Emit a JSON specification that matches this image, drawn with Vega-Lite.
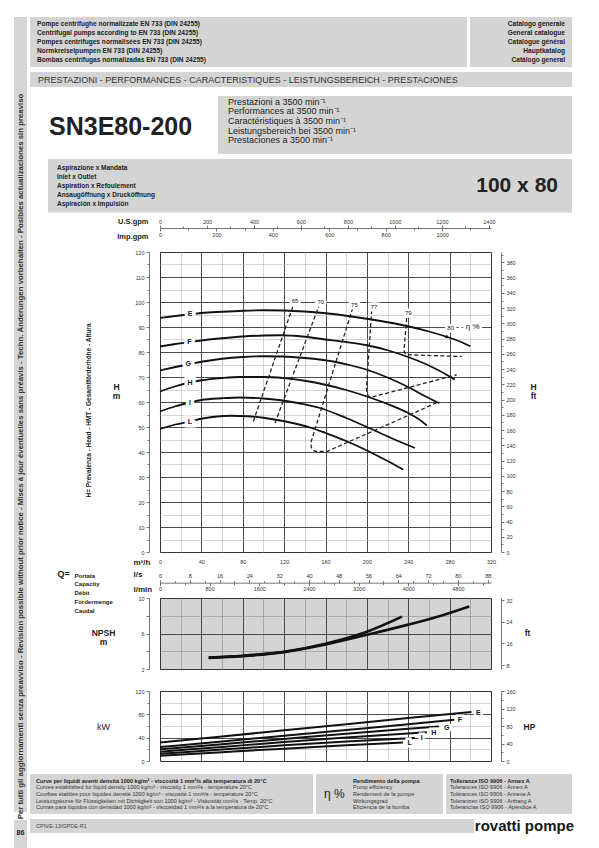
{
"$schema": "https://vega.github.io/schema/vega-lite/v6.json",
"background": "white",
"padding": {"left": 14, "top": 17, "right": 0, "bottom": 0},
"config": {
  "font": "Liberation Sans",
  "numberFormat": "d",
  "view": {"stroke": null},
  "axis": {"labelFontSize": 5.5, "labelColor": "#333", "labelFlush": false, "labelOverlap": false, "domainColor": "#555", "domainWidth": 0.8, "tickColor": "#555", "tickWidth": 0.8, "titleColor": "#222", "titleFontWeight": "bold", "titlePadding": 0}
},
"datasets": {
  "one": [{"v": 0}],
  "hq": [
    {"c":"E","q":0,"h":93.6},{"c":"E","q":15,"h":94.4},{"c":"E","q":29,"h":95.1},{"c":"E","q":40,"h":95.6},{"c":"E","q":60,"h":96.1},{"c":"E","q":80,"h":96.5},{"c":"E","q":100,"h":96.7},{"c":"E","q":120,"h":96.6},{"c":"E","q":140,"h":96.2},{"c":"E","q":158,"h":95.6},{"c":"E","q":180,"h":94.5},{"c":"E","q":203,"h":93.1},{"c":"E","q":220,"h":91.9},{"c":"E","q":238.5,"h":90.4},{"c":"E","q":260,"h":88.2},{"c":"E","q":277,"h":86.1},{"c":"E","q":290,"h":84.2},{"c":"E","q":300,"h":82.3},
    {"c":"F","q":0,"h":82.2},{"c":"F","q":15,"h":83.2},{"c":"F","q":29,"h":84.0},{"c":"F","q":40,"h":84.6},{"c":"F","q":60,"h":85.5},{"c":"F","q":80,"h":86.2},{"c":"F","q":100,"h":86.6},{"c":"F","q":116,"h":86.7},{"c":"F","q":140,"h":86.1},{"c":"F","q":158,"h":85.1},{"c":"F","q":180,"h":84.0},{"c":"F","q":200,"h":82.7},{"c":"F","q":220,"h":80.7},{"c":"F","q":238.5,"h":78.2},{"c":"F","q":260,"h":74.6},{"c":"F","q":280,"h":70.2},{"c":"F","q":285,"h":68.9},
    {"c":"G","q":0,"h":72.6},{"c":"G","q":15,"h":74.0},{"c":"G","q":29,"h":75.2},{"c":"G","q":40,"h":76.1},{"c":"G","q":60,"h":77.3},{"c":"G","q":80,"h":78.0},{"c":"G","q":100,"h":78.3},{"c":"G","q":119,"h":78.2},{"c":"G","q":140,"h":77.6},{"c":"G","q":167.5,"h":76.2},{"c":"G","q":185,"h":74.6},{"c":"G","q":200,"h":72.9},{"c":"G","q":220,"h":69.8},{"c":"G","q":241.7,"h":65.6},{"c":"G","q":255,"h":62.6},{"c":"G","q":270,"h":59.5},
    {"c":"H","q":0,"h":64.2},{"c":"H","q":15,"h":66.3},{"c":"H","q":29,"h":67.8},{"c":"H","q":40,"h":68.7},{"c":"H","q":60,"h":69.6},{"c":"H","q":77,"h":70.0},{"c":"H","q":100,"h":70.0},{"c":"H","q":119,"h":69.6},{"c":"H","q":140,"h":68.5},{"c":"H","q":160,"h":66.9},{"c":"H","q":180,"h":64.8},{"c":"H","q":200,"h":62.2},{"c":"H","q":220,"h":59.2},{"c":"H","q":240,"h":55.6},{"c":"H","q":250,"h":53.2},{"c":"H","q":258,"h":50.6},
    {"c":"I","q":0,"h":56.2},{"c":"I","q":15,"h":58.3},{"c":"I","q":29,"h":59.8},{"c":"I","q":40,"h":60.8},{"c":"I","q":60,"h":61.5},{"c":"I","q":77,"h":61.8},{"c":"I","q":100,"h":61.4},{"c":"I","q":119,"h":60.6},{"c":"I","q":137,"h":59.3},{"c":"I","q":154.7,"h":57.6},{"c":"I","q":180,"h":53.6},{"c":"I","q":200,"h":50.0},{"c":"I","q":223.5,"h":45.6},{"c":"I","q":246.5,"h":41.6},
    {"c":"L","q":0,"h":49.2},{"c":"L","q":15,"h":51.0},{"c":"L","q":29,"h":52.2},{"c":"L","q":40,"h":53.3},{"c":"L","q":55,"h":54.2},{"c":"L","q":68,"h":54.5},{"c":"L","q":85,"h":54.3},{"c":"L","q":100,"h":53.7},{"c":"L","q":119,"h":52.4},{"c":"L","q":146.6,"h":49.6},{"c":"L","q":160,"h":47.6},{"c":"L","q":180,"h":44.4},{"c":"L","q":200,"h":40.6},{"c":"L","q":220,"h":36.4},{"c":"L","q":235,"h":33.0}
  ],
  "hqlab": [
    {"t":"E","q":29,"h":95.2},{"t":"F","q":28.4,"h":84.0},{"t":"G","q":27.4,"h":75.2},{"t":"H","q":29,"h":67.8},{"t":"I","q":29,"h":59.8},{"t":"L","q":29,"h":52.2}
  ],
  "eta": [
    {"c":"65","i":1,"q":90.2,"h":52.2},{"c":"65","i":2,"q":128.5,"h":98.3},
    {"c":"70","i":1,"q":111.2,"h":51.6},{"c":"70","i":2,"q":153.5,"h":98.3},
    {"c":"75","i":1,"q":186.3,"h":97.6},{"c":"75","i":2,"q":145.7,"h":43.6},{"c":"75","i":3,"q":146.4,"h":41.7},{"c":"75","i":4,"q":148.6,"h":40.5},{"c":"75","i":5,"q":151.5,"h":40.2},{"c":"75","i":6,"q":161.3,"h":40.2},{"c":"75","i":7,"q":186.9,"h":44.9},{"c":"75","i":8,"q":215.9,"h":50.2},{"c":"75","i":9,"q":241.7,"h":54.9},{"c":"75","i":10,"q":270,"h":60.2},
    {"c":"77","i":1,"q":204.7,"h":96.8},{"c":"77","i":2,"q":199.6,"h":65.5},{"c":"77","i":3,"q":199.9,"h":63.5},{"c":"77","i":4,"q":201.5,"h":62.4},{"c":"77","i":5,"q":204.7,"h":62.0},{"c":"77","i":6,"q":238.5,"h":65.6},{"c":"77","i":7,"q":286.8,"h":70.9},
    {"c":"79","i":1,"q":238.5,"h":93.6},{"c":"79","i":2,"q":235.9,"h":80.9},{"c":"79","i":3,"q":236.5,"h":79.6},{"c":"79","i":4,"q":238.5,"h":78.9},{"c":"79","i":5,"q":291.7,"h":78.2}
  ],
  "etalab": [
    {"t":"65","q":130.5,"h":100.3},{"t":"70","q":155.4,"h":100.0},{"t":"75","q":188,"h":99.0},{"t":"77","q":207,"h":98.0},{"t":"79","q":240,"h":95.5},{"t":"80","q":281,"h":89.6}
  ],
  "npsh": [
    {"c":"1","q":47,"n":3.3},{"c":"1","q":80,"n":3.5},{"c":"1","q":120,"n":3.95},{"c":"1","q":160,"n":4.85},{"c":"1","q":200,"n":6.2},{"c":"1","q":234,"n":7.9},
    {"c":"2","q":47,"n":3.25},{"c":"2","q":80,"n":3.45},{"c":"2","q":120,"n":3.9},{"c":"2","q":160,"n":4.75},{"c":"2","q":200,"n":5.85},{"c":"2","q":240,"n":7.0},{"c":"2","q":270,"n":7.95},{"c":"2","q":299,"n":9.05}
  ],
  "kw": [
    {"c":"E","q":0,"p":31.9},{"c":"E","q":60,"p":42.0},{"c":"E","q":120,"p":52.6},{"c":"E","q":180,"p":63.2},{"c":"E","q":240,"p":73.6},{"c":"E","q":301,"p":84.0},
    {"c":"F","q":0,"p":24.0},{"c":"F","q":60,"p":33.5},{"c":"F","q":120,"p":43.2},{"c":"F","q":180,"p":53.0},{"c":"F","q":240,"p":62.8},{"c":"F","q":284.5,"p":70.7},
    {"c":"G","q":0,"p":20.0},{"c":"G","q":60,"p":28.8},{"c":"G","q":120,"p":37.8},{"c":"G","q":180,"p":46.8},{"c":"G","q":240,"p":55.2},{"c":"G","q":269.6,"p":59.1},
    {"c":"H","q":0,"p":16.0},{"c":"H","q":60,"p":24.2},{"c":"H","q":120,"p":32.4},{"c":"H","q":180,"p":40.2},{"c":"H","q":258,"p":49.3},
    {"c":"I","q":0,"p":12.4},{"c":"I","q":60,"p":19.6},{"c":"I","q":120,"p":26.8},{"c":"I","q":180,"p":33.5},{"c":"I","q":246.4,"p":39.4},
    {"c":"L","q":0,"p":9.0},{"c":"L","q":60,"p":15.2},{"c":"L","q":120,"p":21.2},{"c":"L","q":180,"p":26.8},{"c":"L","q":234.8,"p":31.9}
  ],
  "kwlab": [
    {"t":"E","q":307.7,"p":82.9},{"t":"F","q":290,"p":70.7},{"t":"G","q":277.2,"p":56.8},{"t":"H","q":264.6,"p":47.5},{"t":"I","q":253,"p":39.4},{"t":"L","q":241.4,"p":30.1}
  ],
  "box5": [
    {"n":1,"t":"Curve per liquidi aventi densità 1000 kg/m³ - viscosità 1 mm²/s alla temperatura di 20°C"},
    {"n":2,"t":"Curves established for liquid density 1000 kg/m³ - viscosity 1 mm²/s - temperature 20°C"},
    {"n":3,"t":"Courbes établies pour liquides densité 1000 kg/m³ - viscosité 1 mm²/s - température 20°C"},
    {"n":4,"t":"Leistungskurve für Flüssigkeiten mit Dichtigkeit von 1000 kg/m³ - Viskosität mm²/s - Temp. 20°C"},
    {"n":5,"t":"Curvas para liquidos con densidad 1000 kg/m³ - viscosidad 1 mm²/s a la temperatura de 20°C"}],
  "box6": [
    {"n":1,"t":"Rendimento della pompa"},{"n":2,"t":"Pump efficiency"},{"n":3,"t":"Rendement de la pompe"},{"n":4,"t":"Wirkungsgrad"},{"n":5,"t":"Eficiencia de la bomba"}],
  "box7": [
    {"n":1,"t":"Tolleranze ISO 9906 - Annex A"},{"n":2,"t":"Tolerances ISO 9906 - Annex A"},{"n":3,"t":"Tolérances ISO 9906 - Annexe A"},{"n":4,"t":"Toleranzen ISO 9906 - Anhang A"},{"n":5,"t":"Tolerancias ISO 9906 - Apéndice A"}]
},
"spacing": 3,
"hconcat": [
  {"spacing": 0, "vconcat": [
    {"width": 13, "height": 795, "view": {"fill": "#d5d5d5"},
     "data": {"values": [{"t": "Per tutti gli aggiornamenti senza preavviso - Revision possible without prior notice - Mises à jour éventuelles sans préavis - Techn. Änderungen vorbehalten - Posibles actualizaciones sin preaviso"}]},
     "mark": {"type": "text", "angle": 270, "fontSize": 7.8, "fontWeight": "bold", "color": "#333", "align": "center", "baseline": "middle", "dx": -42},
     "encoding": {"text": {"field": "t"}}},
    {"width": 13, "height": 36, "view": {"fill": "#d5d5d5"},
     "data": {"values": [{"t": "86"}]},
     "mark": {"type": "text", "fontSize": 7, "fontWeight": "bold", "color": "#222", "baseline": "middle", "dy": -5},
     "encoding": {"text": {"field": "t"}}}
  ]},
  {"spacing": 0, "vconcat": [
    {"spacing": 3, "hconcat": [
      {"width": 437, "height": 50, "view": {"fill": "#d4d4d4"},
       "data": {"values": [
         {"n":1,"t":"Pompe centrifughe normalizzate EN 733 (DIN 24255)"},
         {"n":2,"t":"Centrifugal pumps according to EN 733 (DIN 24255)"},
         {"n":3,"t":"Pompes centrifuges normalisées EN 733 (DIN 24255)"},
         {"n":4,"t":"Normkreiselpumpen EN 733 (DIN 24255)"},
         {"n":5,"t":"Bombas centrifugas normalizadas EN 733 (DIN 24255)"}]},
       "mark": {"type": "text", "align": "left", "baseline": "middle", "fontSize": 6.6, "fontWeight": "bold", "color": "#222", "dx": 7},
       "encoding": {
         "x": {"datum": 0, "type": "quantitative", "scale": {"domain": [0, 1]}, "axis": null},
         "y": {"field": "n", "type": "ordinal", "axis": null, "scale": {"type": "point", "padding": 0.84}},
         "text": {"field": "t"}}},
      {"width": 102, "height": 50, "view": {"fill": "#d4d4d4"},
       "data": {"values": [
         {"n":1,"t":"Catalogo generale"},{"n":2,"t":"General catalogue"},{"n":3,"t":"Catalogue général"},{"n":4,"t":"Hauptkatalog"},{"n":5,"t":"Catálogo general"}]},
       "mark": {"type": "text", "align": "right", "baseline": "middle", "fontSize": 6.6, "fontWeight": "bold", "color": "#222", "dx": -7},
       "encoding": {
         "x": {"datum": 1, "type": "quantitative", "scale": {"domain": [0, 1]}, "axis": null},
         "y": {"field": "n", "type": "ordinal", "axis": null, "scale": {"type": "point", "padding": 0.84}},
         "text": {"field": "t"}}}
    ]},
    {"width": 1, "height": 5, "data": {"values": [{}]}, "mark": {"type": "point", "opacity": 0, "size": 1}},
    {"width": 542, "height": 15, "view": {"fill": "#d4d4d4"},
     "data": {"values": [{"t": "PRESTAZIONI - PERFORMANCES - CARACTERISTIQUES - LEISTUNGSBEREICH - PRESTACIONES"}]},
     "mark": {"type": "text", "align": "left", "baseline": "middle", "fontSize": 9, "color": "#333", "dx": 8},
     "encoding": {"x": {"datum": 0, "type": "quantitative", "scale": {"domain": [0, 1]}, "axis": null}, "text": {"field": "t"}}},
    {"width": 1, "height": 9, "data": {"values": [{}]}, "mark": {"type": "point", "opacity": 0, "size": 1}},
    {"spacing": 0, "hconcat": [
      {"width": 188, "height": 58,
       "data": {"values": [{"t": "SN3E80-200"}]},
       "mark": {"type": "text", "align": "left", "baseline": "middle", "fontSize": 25, "fontWeight": "bold", "color": "#222", "dx": 19, "dy": 2},
       "encoding": {"x": {"datum": 0, "type": "quantitative", "scale": {"domain": [0, 1]}, "axis": null}, "text": {"field": "t"}}},
      {"width": 354, "height": 58, "view": {"fill": "#d4d4d4"},
       "data": {"values": [
         {"n":1,"t":"Prestazioni a 3500 min⁻¹"},{"n":2,"t":"Performances at 3500 min⁻¹"},{"n":3,"t":"Caractéristiques à 3500 min⁻¹"},{"n":4,"t":"Leistungsbereich bei 3500 min⁻¹"},{"n":5,"t":"Prestaciones a 3500 min⁻¹"}]},
       "mark": {"type": "text", "align": "left", "baseline": "middle", "fontSize": 9, "color": "#222", "dx": 10, "dy": -4},
       "encoding": {
         "x": {"datum": 0, "type": "quantitative", "scale": {"domain": [0, 1]}, "axis": null},
         "y": {"field": "n", "type": "ordinal", "axis": null, "scale": {"type": "point", "padding": 1.41}},
         "text": {"field": "t"}}}
    ]},
    {"width": 1, "height": 4.5, "data": {"values": [{}]}, "mark": {"type": "point", "opacity": 0, "size": 1}},
    {"spacing": 0, "hconcat": [
      {"width": 18, "height": 1, "data": {"values": [{}]}, "mark": {"type": "point", "opacity": 0, "size": 1}},
      {"width": 524, "height": 53.5, "view": {"fill": "#d4d4d4"},
       "layer": [
         {"data": {"values": [
           {"n":1,"t":"Aspirazione x Mandata"},{"n":2,"t":"Inlet x Outlet"},{"n":3,"t":"Aspiration x Refoulement"},{"n":4,"t":"Ansaugöffnung x Drucköffnung"},{"n":5,"t":"Aspiración x Impulsión"}]},
          "mark": {"type": "text", "align": "left", "baseline": "middle", "fontSize": 6.5, "fontWeight": "bold", "color": "#222", "dx": 9},
          "encoding": {
            "x": {"datum": 0, "type": "quantitative", "scale": {"domain": [0, 1]}, "axis": null},
            "y": {"field": "n", "type": "ordinal", "axis": null, "scale": {"type": "point", "padding": 1.07}},
            "text": {"field": "t"}}},
         {"data": {"values": [{"t": "100 x 80"}]},
          "mark": {"type": "text", "align": "right", "baseline": "middle", "fontSize": 21, "fontWeight": "bold", "color": "#222", "dx": -14},
          "encoding": {"x": {"datum": 1, "type": "quantitative", "scale": {"domain": [0, 1]}, "axis": null}, "text": {"field": "t"}}}
       ]}
    ]},
    {"width": 1, "height": 3.6, "data": {"values": [{}]}, "mark": {"type": "point", "opacity": 0, "size": 1}},
    {"spacing": 0, "bounds": "flush", "hconcat": [
      {"width": 130, "height": 1, "data": {"values": [{}]}, "mark": {"type": "point", "opacity": 0, "size": 1}},
      {"spacing": 22, "bounds": "flush", "vconcat": [
        {"width": 331, "height": 300, "view": {"stroke": "#333", "strokeWidth": 1},
         "resolve": {"scale": {"x": "independent", "y": "independent"}, "axis": {"x": "independent", "y": "independent"}},
         "layer": [
           {"data": {"name": "one"}, "mark": {"type": "point", "opacity": 0},
            "encoding": {
              "x": {"field": "v", "type": "quantitative", "scale": {"domain": [0, 320], "nice": false}, "axis": {"orient": "bottom", "grid": true, "gridColor": "#b5b5b5", "gridWidth": 0.6, "values": [20,60,100,140,180,220,260,300], "labels": false, "ticks": false, "tickSize": 0, "domain": false, "title": null}},
              "y": {"field": "v", "type": "quantitative", "scale": {"domain": [0, 120], "nice": false}, "axis": {"orient": "left", "grid": true, "gridColor": "#b5b5b5", "gridWidth": 0.6, "values": [5,15,25,35,45,55,65,75,85,95,105,115], "labels": false, "ticks": false, "tickSize": 0, "domain": false, "title": null}}}},
           {"data": {"name": "one"}, "mark": {"type": "point", "opacity": 0},
            "encoding": {
              "x": {"field": "v", "type": "quantitative", "scale": {"domain": [0, 320], "nice": false}, "axis": {"orient": "bottom", "grid": true, "gridColor": "#4a4a4a", "gridWidth": 1, "values": [40,80,120,160,200,240,280], "labels": false, "ticks": false, "tickSize": 0, "domain": false, "title": null}},
              "y": {"field": "v", "type": "quantitative", "scale": {"domain": [0, 120], "nice": false}, "axis": {"orient": "left", "grid": true, "gridColor": "#4a4a4a", "gridWidth": 1, "values": [10,20,30,40,50,60,70,80,90,100,110], "labels": false, "ticks": false, "tickSize": 0, "domain": false, "title": null}}}},
           {"data": {"name": "one"}, "mark": {"type": "point", "opacity": 0},
            "encoding": {
              "x": {"field": "v", "type": "quantitative", "scale": {"domain": [0, 320], "nice": false}, "axis": {"orient": "bottom", "values": [0,40,80,120,160,200,240,280,320], "ticks": false, "tickSize": 0, "domain": false, "labelPadding": 7, "title": "m³/h", "titleX": -27, "titleY": 10, "titleAlign": "left", "titleBaseline": "middle", "titleAngle": 0, "titleFontSize": 8}},
              "y": {"field": "v", "type": "quantitative", "scale": {"domain": [0, 120], "nice": false}, "axis": {"orient": "left", "offset": 11, "values": [0,10,20,30,40,50,60,70,80,90,100,110,120], "tickSize": 3, "labelPadding": 2, "domain": true, "title": ["H", "m"], "titleX": -33, "titleY": 134, "titleAlign": "center", "titleBaseline": "middle", "titleAngle": 0, "titleFontSize": 8.5, "titleLineHeight": 9}}}},
           {"data": {"name": "one"}, "mark": {"type": "point", "opacity": 0},
            "encoding": {
              "x": {"field": "v", "type": "quantitative", "scale": {"domain": [0, 1]}, "axis": null},
              "y": {"field": "v", "type": "quantitative", "scale": {"domain": [0, 120], "nice": false}, "axis": {"orient": "left", "offset": 11, "values": [5,15,25,35,45,55,65,75,85,95,105,115], "tickSize": 2, "labels": false, "domain": false, "title": "H=  Prevalenza - Head - HMT - Gesamtförderhöhe - Altura", "titleX": -61, "titleY": 158, "titleAngle": 270, "titleAlign": "center", "titleBaseline": "middle", "titleFontSize": 6.5}}}},
           {"data": {"name": "one"}, "mark": {"type": "point", "opacity": 0},
            "encoding": {
              "x": {"field": "v", "type": "quantitative", "scale": {"domain": [0, 1]}, "axis": null},
              "y": {"field": "v", "type": "quantitative", "scale": {"domain": [0, 393.7], "nice": false}, "axis": {"orient": "right", "offset": 10, "values": [0,20,40,60,80,100,120,140,160,180,200,220,240,260,280,300,320,340,360,380], "tickSize": 3, "labelPadding": 2, "domain": true, "title": ["H", "ft"], "titleX": 32, "titleY": 134, "titleAlign": "center", "titleBaseline": "middle", "titleAngle": 0, "titleFontSize": 8.5, "titleLineHeight": 9}}}},
           {"data": {"name": "one"}, "mark": {"type": "point", "opacity": 0},
            "encoding": {
              "x": {"field": "v", "type": "quantitative", "scale": {"domain": [0, 1]}, "axis": null},
              "y": {"field": "v", "type": "quantitative", "scale": {"domain": [0, 393.7], "nice": false}, "axis": {"orient": "right", "offset": 10, "values": [10,30,50,70,90,110,130,150,170,190,210,230,250,270,290,310,330,350,370,390], "tickSize": 2, "labels": false, "domain": false, "title": null}}}},
           {"data": {"name": "one"}, "mark": {"type": "point", "opacity": 0},
            "encoding": {
              "y": {"field": "v", "type": "quantitative", "scale": {"domain": [0, 1]}, "axis": null},
              "x": {"field": "v", "type": "quantitative", "scale": {"domain": [0, 1408.9], "nice": false}, "axis": {"orient": "top", "offset": 24, "values": [0,200,400,600,800,1000,1200,1400], "tickSize": 3, "labelPadding": 1, "domain": true, "title": "U.S.gpm", "titleX": -12, "titleY": -6.5, "titleAlign": "right", "titleBaseline": "middle", "titleAngle": 0, "titleFontSize": 7.5}}}},
           {"data": {"name": "one"}, "mark": {"type": "point", "opacity": 0},
            "encoding": {
              "y": {"field": "v", "type": "quantitative", "scale": {"domain": [0, 1]}, "axis": null},
              "x": {"field": "v", "type": "quantitative", "scale": {"domain": [0, 1408.9], "nice": false}, "axis": {"orient": "top", "offset": 24, "values": [100,300,500,700,900,1100,1300], "tickSize": 2, "labels": false, "domain": false, "title": null}}}},
           {"data": {"name": "one"}, "mark": {"type": "point", "opacity": 0},
            "encoding": {
              "y": {"field": "v", "type": "quantitative", "scale": {"domain": [0, 1]}, "axis": null},
              "x": {"field": "v", "type": "quantitative", "scale": {"domain": [0, 1173.2], "nice": false}, "axis": {"orient": "bottom", "offset": -324, "values": [0,200,400,600,800,1000], "tickSize": 3, "labelPadding": 1, "domain": false, "title": "Imp.gpm", "titleX": -12, "titleY": 8.5, "titleAlign": "right", "titleBaseline": "middle", "titleAngle": 0, "titleFontSize": 7.5}}}},
           {"data": {"name": "one"}, "mark": {"type": "point", "opacity": 0},
            "encoding": {
              "y": {"field": "v", "type": "quantitative", "scale": {"domain": [0, 1]}, "axis": null},
              "x": {"field": "v", "type": "quantitative", "scale": {"domain": [0, 1173.2], "nice": false}, "axis": {"orient": "bottom", "offset": -324, "values": [100,300,500,700,900,1100], "tickSize": 2, "labels": false, "domain": false, "title": null}}}},
           {"data": {"name": "hq"}, "mark": {"type": "line", "color": "#111", "strokeWidth": 1.8, "interpolate": "monotone"},
            "encoding": {
              "x": {"field": "q", "type": "quantitative", "scale": {"domain": [0, 320], "nice": false}, "axis": null},
              "y": {"field": "h", "type": "quantitative", "scale": {"domain": [0, 120], "nice": false}, "axis": null},
              "detail": {"field": "c"}}},
           {"data": {"name": "eta"}, "mark": {"type": "line", "color": "#222", "strokeWidth": 1.3, "strokeDash": [4, 2.5]},
            "encoding": {
              "x": {"field": "q", "type": "quantitative", "scale": {"domain": [0, 320], "nice": false}, "axis": null},
              "y": {"field": "h", "type": "quantitative", "scale": {"domain": [0, 120], "nice": false}, "axis": null},
              "detail": {"field": "c"}, "order": {"field": "i"}}},
           {"data": {"values": [{"q": 277.2, "h": 86.1}]}, "mark": {"type": "point", "filled": true, "color": "#111", "size": 10, "opacity": 1},
            "encoding": {
              "x": {"field": "q", "type": "quantitative", "scale": {"domain": [0, 320], "nice": false}, "axis": null},
              "y": {"field": "h", "type": "quantitative", "scale": {"domain": [0, 120], "nice": false}, "axis": null}}},
           {"data": {"name": "hqlab"}, "mark": {"type": "text", "fontSize": 7, "fontWeight": "bold", "color": "white", "stroke": "white", "strokeWidth": 7, "baseline": "middle"},
            "encoding": {
              "x": {"field": "q", "type": "quantitative", "scale": {"domain": [0, 320], "nice": false}, "axis": null},
              "y": {"field": "h", "type": "quantitative", "scale": {"domain": [0, 120], "nice": false}, "axis": null},
              "text": {"field": "t"}}},
           {"data": {"name": "hqlab"}, "mark": {"type": "text", "fontSize": 7, "fontWeight": "bold", "color": "#111", "baseline": "middle"},
            "encoding": {
              "x": {"field": "q", "type": "quantitative", "scale": {"domain": [0, 320], "nice": false}, "axis": null},
              "y": {"field": "h", "type": "quantitative", "scale": {"domain": [0, 120], "nice": false}, "axis": null},
              "text": {"field": "t"}}},
           {"data": {"name": "etalab"}, "mark": {"type": "text", "fontSize": 6, "color": "white", "stroke": "white", "strokeWidth": 5, "baseline": "middle"},
            "encoding": {
              "x": {"field": "q", "type": "quantitative", "scale": {"domain": [0, 320], "nice": false}, "axis": null},
              "y": {"field": "h", "type": "quantitative", "scale": {"domain": [0, 120], "nice": false}, "axis": null},
              "text": {"field": "t"}}},
           {"data": {"name": "etalab"}, "mark": {"type": "text", "fontSize": 6, "color": "#111", "baseline": "middle"},
            "encoding": {
              "x": {"field": "q", "type": "quantitative", "scale": {"domain": [0, 320], "nice": false}, "axis": null},
              "y": {"field": "h", "type": "quantitative", "scale": {"domain": [0, 120], "nice": false}, "axis": null},
              "text": {"field": "t"}}},
           {"data": {"values": [{"t": "- η %", "q": 300, "h": 90}]}, "mark": {"type": "text", "fontSize": 8, "color": "white", "stroke": "white", "strokeWidth": 5, "baseline": "middle"},
            "encoding": {
              "x": {"field": "q", "type": "quantitative", "scale": {"domain": [0, 320], "nice": false}, "axis": null},
              "y": {"field": "h", "type": "quantitative", "scale": {"domain": [0, 120], "nice": false}, "axis": null},
              "text": {"field": "t"}}},
           {"data": {"values": [{"t": "- η %", "q": 300, "h": 90}]}, "mark": {"type": "text", "fontSize": 8, "color": "#111", "baseline": "middle"},
            "encoding": {
              "x": {"field": "q", "type": "quantitative", "scale": {"domain": [0, 320], "nice": false}, "axis": null},
              "y": {"field": "h", "type": "quantitative", "scale": {"domain": [0, 120], "nice": false}, "axis": null},
              "text": {"field": "t"}}}
         ]},
        {"width": 331, "height": 2,
         "resolve": {"scale": {"x": "independent"}, "axis": {"x": "independent"}},
         "layer": [
           {"data": {"name": "one"}, "mark": {"type": "point", "opacity": 0},
            "encoding": {
              "y": {"field": "v", "type": "quantitative", "scale": {"domain": [0, 1]}, "axis": null},
              "x": {"field": "v", "type": "quantitative", "scale": {"domain": [0, 88.889], "nice": false}, "axis": {"orient": "top", "offset": -8.7, "values": [0,8,16,24,32,40,48,56,64,72,80,88], "tickSize": 3, "labelPadding": 1, "domain": true, "title": "l/s", "titleX": -27, "titleY": -8.5, "titleAlign": "left", "titleBaseline": "middle", "titleAngle": 0, "titleFontSize": 8}}}},
           {"data": {"name": "one"}, "mark": {"type": "point", "opacity": 0},
            "encoding": {
              "y": {"field": "v", "type": "quantitative", "scale": {"domain": [0, 1]}, "axis": null},
              "x": {"field": "v", "type": "quantitative", "scale": {"domain": [0, 88.889], "nice": false}, "axis": {"orient": "top", "offset": -8.7, "values": [4,12,20,28,36,44,52,60,68,76,84], "tickSize": 2, "labels": false, "domain": false, "title": "Q=", "titleX": -97, "titleY": -9, "titleAlign": "center", "titleBaseline": "middle", "titleAngle": 0, "titleFontSize": 9}}}},
           {"data": {"name": "one"}, "mark": {"type": "point", "opacity": 0},
            "encoding": {
              "y": {"field": "v", "type": "quantitative", "scale": {"domain": [0, 1]}, "axis": null},
              "x": {"field": "v", "type": "quantitative", "scale": {"domain": [0, 5333.3], "nice": false}, "axis": {"orient": "bottom", "offset": 6.7, "values": [0,800,1600,2400,3200,4000,4800], "tickSize": 3, "labelPadding": 1, "domain": false, "title": "l/min", "titleX": -27, "titleY": 7, "titleAlign": "left", "titleBaseline": "middle", "titleAngle": 0, "titleFontSize": 8}}}},
           {"data": {"name": "one"}, "mark": {"type": "point", "opacity": 0},
            "encoding": {
              "y": {"field": "v", "type": "quantitative", "scale": {"domain": [0, 1]}, "axis": null},
              "x": {"field": "v", "type": "quantitative", "scale": {"domain": [0, 5333.3], "nice": false}, "axis": {"orient": "bottom", "offset": 6.7, "values": [400,1200,2000,2800,3600,4400,5200], "tickSize": 2, "labels": false, "domain": false, "title": ["Portata", "Capacity", "Débit", "Fördermenge", "Caudal"], "titleX": -86, "titleY": -7.5, "titleAlign": "left", "titleBaseline": "middle", "titleAngle": 0, "titleFontSize": 6, "titleLineHeight": 8.8}}}}
         ]},
        {"width": 331, "height": 71, "view": {"fill": "#d4d4d4", "stroke": "#333", "strokeWidth": 1},
         "resolve": {"scale": {"x": "independent", "y": "independent"}, "axis": {"x": "independent", "y": "independent"}},
         "layer": [
           {"data": {"name": "one"}, "mark": {"type": "point", "opacity": 0},
            "encoding": {
              "x": {"field": "v", "type": "quantitative", "scale": {"domain": [0, 320], "nice": false}, "axis": {"orient": "bottom", "grid": true, "gridColor": "#8c8c8c", "gridWidth": 0.6, "values": [20,60,100,140,180,220,260,300], "labels": false, "ticks": false, "tickSize": 0, "domain": false, "title": null}},
              "y": {"field": "v", "type": "quantitative", "scale": {"domain": [2, 10], "nice": false, "zero": false}, "axis": {"orient": "left", "grid": true, "gridColor": "#8c8c8c", "gridWidth": 0.6, "values": [4, 8], "labels": false, "ticks": false, "tickSize": 0, "domain": false, "title": null}}}},
           {"data": {"name": "one"}, "mark": {"type": "point", "opacity": 0},
            "encoding": {
              "x": {"field": "v", "type": "quantitative", "scale": {"domain": [0, 320], "nice": false}, "axis": {"orient": "bottom", "grid": true, "gridColor": "#4a4a4a", "gridWidth": 1, "values": [40,80,120,160,200,240,280], "labels": false, "ticks": false, "tickSize": 0, "domain": false, "title": null}},
              "y": {"field": "v", "type": "quantitative", "scale": {"domain": [2, 10], "nice": false, "zero": false}, "axis": {"orient": "left", "grid": true, "gridColor": "#4a4a4a", "gridWidth": 1, "values": [6], "labels": false, "ticks": false, "tickSize": 0, "domain": false, "title": null}}}},
           {"data": {"name": "one"}, "mark": {"type": "point", "opacity": 0},
            "encoding": {
              "x": {"field": "v", "type": "quantitative", "scale": {"domain": [0, 1]}, "axis": null},
              "y": {"field": "v", "type": "quantitative", "scale": {"domain": [2, 10], "nice": false, "zero": false}, "axis": {"orient": "left", "offset": 11, "values": [2, 6, 10], "tickSize": 3, "labelPadding": 2, "domain": true, "title": ["NPSH", "m"], "titleX": -46, "titleY": 34, "titleAlign": "center", "titleBaseline": "middle", "titleAngle": 0, "titleFontSize": 8.5, "titleLineHeight": 9}}}},
           {"data": {"name": "one"}, "mark": {"type": "point", "opacity": 0},
            "encoding": {
              "x": {"field": "v", "type": "quantitative", "scale": {"domain": [0, 1]}, "axis": null},
              "y": {"field": "v", "type": "quantitative", "scale": {"domain": [2, 10], "nice": false, "zero": false}, "axis": {"orient": "left", "offset": 11, "values": [4, 8], "tickSize": 3, "labels": false, "domain": false, "title": null}}}},
           {"data": {"name": "one"}, "mark": {"type": "point", "opacity": 0},
            "encoding": {
              "x": {"field": "v", "type": "quantitative", "scale": {"domain": [0, 1]}, "axis": null},
              "y": {"field": "v", "type": "quantitative", "scale": {"domain": [6.5617, 32.8084], "nice": false, "zero": false}, "axis": {"orient": "right", "offset": 10, "values": [8, 16, 24, 32], "tickSize": 3, "labelPadding": 2, "domain": true, "title": "ft", "titleX": 26, "titleY": 34, "titleAlign": "center", "titleBaseline": "middle", "titleAngle": 0, "titleFontSize": 8.5}}}},
           {"data": {"name": "npsh"}, "mark": {"type": "line", "color": "#111", "strokeWidth": 2.6, "interpolate": "monotone"},
            "encoding": {
              "x": {"field": "q", "type": "quantitative", "scale": {"domain": [0, 320], "nice": false}, "axis": null},
              "y": {"field": "n", "type": "quantitative", "scale": {"domain": [2, 10], "nice": false, "zero": false}, "axis": null},
              "detail": {"field": "c"}}}
         ]},
        {"width": 331, "height": 70, "view": {"stroke": "#333", "strokeWidth": 1},
         "resolve": {"scale": {"x": "independent", "y": "independent"}, "axis": {"x": "independent", "y": "independent"}},
         "layer": [
           {"data": {"name": "one"}, "mark": {"type": "point", "opacity": 0},
            "encoding": {
              "x": {"field": "v", "type": "quantitative", "scale": {"domain": [0, 320], "nice": false}, "axis": {"orient": "bottom", "grid": true, "gridColor": "#b5b5b5", "gridWidth": 0.6, "values": [20,60,100,140,180,220,260,300], "labels": false, "ticks": false, "tickSize": 0, "domain": false, "title": null}},
              "y": {"field": "v", "type": "quantitative", "scale": {"domain": [0, 120], "nice": false}, "axis": {"orient": "left", "grid": true, "gridColor": "#b5b5b5", "gridWidth": 0.6, "values": [20, 60, 100], "labels": false, "ticks": false, "tickSize": 0, "domain": false, "title": null}}}},
           {"data": {"name": "one"}, "mark": {"type": "point", "opacity": 0},
            "encoding": {
              "x": {"field": "v", "type": "quantitative", "scale": {"domain": [0, 320], "nice": false}, "axis": {"orient": "bottom", "grid": true, "gridColor": "#4a4a4a", "gridWidth": 1, "values": [40,80,120,160,200,240,280], "labels": false, "ticks": false, "tickSize": 0, "domain": false, "title": null}},
              "y": {"field": "v", "type": "quantitative", "scale": {"domain": [0, 120], "nice": false}, "axis": {"orient": "left", "grid": true, "gridColor": "#4a4a4a", "gridWidth": 1, "values": [40, 80], "labels": false, "ticks": false, "tickSize": 0, "domain": false, "title": null}}}},
           {"data": {"name": "one"}, "mark": {"type": "point", "opacity": 0},
            "encoding": {
              "x": {"field": "v", "type": "quantitative", "scale": {"domain": [0, 1]}, "axis": null},
              "y": {"field": "v", "type": "quantitative", "scale": {"domain": [0, 120], "nice": false}, "axis": {"orient": "left", "offset": 11, "values": [0, 40, 80, 120], "tickSize": 3, "labelPadding": 2, "domain": true, "title": "kW", "titleX": -46, "titleY": 35, "titleAlign": "center", "titleBaseline": "middle", "titleAngle": 0, "titleFontSize": 9, "titleFontWeight": "normal"}}}},
           {"data": {"name": "one"}, "mark": {"type": "point", "opacity": 0},
            "encoding": {
              "x": {"field": "v", "type": "quantitative", "scale": {"domain": [0, 1]}, "axis": null},
              "y": {"field": "v", "type": "quantitative", "scale": {"domain": [0, 120], "nice": false}, "axis": {"orient": "left", "offset": 11, "values": [20, 60, 100], "tickSize": 2, "labels": false, "domain": false, "title": null}}}},
           {"data": {"name": "one"}, "mark": {"type": "point", "opacity": 0},
            "encoding": {
              "x": {"field": "v", "type": "quantitative", "scale": {"domain": [0, 1]}, "axis": null},
              "y": {"field": "v", "type": "quantitative", "scale": {"domain": [0, 160.93], "nice": false}, "axis": {"orient": "right", "offset": 10, "values": [0, 40, 80, 120, 160], "tickSize": 3, "labelPadding": 2, "domain": true, "title": "HP", "titleX": 28, "titleY": 35, "titleAlign": "center", "titleBaseline": "middle", "titleAngle": 0, "titleFontSize": 8.5}}}},
           {"data": {"name": "one"}, "mark": {"type": "point", "opacity": 0},
            "encoding": {
              "x": {"field": "v", "type": "quantitative", "scale": {"domain": [0, 1]}, "axis": null},
              "y": {"field": "v", "type": "quantitative", "scale": {"domain": [0, 160.93], "nice": false}, "axis": {"orient": "right", "offset": 10, "values": [20, 60, 100, 140], "tickSize": 2, "labels": false, "domain": false, "title": null}}}},
           {"data": {"name": "kw"}, "mark": {"type": "line", "color": "#111", "strokeWidth": 2, "interpolate": "monotone"},
            "encoding": {
              "x": {"field": "q", "type": "quantitative", "scale": {"domain": [0, 320], "nice": false}, "axis": null},
              "y": {"field": "p", "type": "quantitative", "scale": {"domain": [0, 120], "nice": false}, "axis": null},
              "detail": {"field": "c"}}},
           {"data": {"name": "kwlab"}, "mark": {"type": "text", "fontSize": 7, "fontWeight": "bold", "color": "white", "stroke": "white", "strokeWidth": 5, "baseline": "middle"},
            "encoding": {
              "x": {"field": "q", "type": "quantitative", "scale": {"domain": [0, 320], "nice": false}, "axis": null},
              "y": {"field": "p", "type": "quantitative", "scale": {"domain": [0, 120], "nice": false}, "axis": null},
              "text": {"field": "t"}}},
           {"data": {"name": "kwlab"}, "mark": {"type": "text", "fontSize": 7, "fontWeight": "bold", "color": "#111", "baseline": "middle"},
            "encoding": {
              "x": {"field": "q", "type": "quantitative", "scale": {"domain": [0, 320], "nice": false}, "axis": null},
              "y": {"field": "p", "type": "quantitative", "scale": {"domain": [0, 120], "nice": false}, "axis": null},
              "text": {"field": "t"}}}
         ]}
      ]}
    ]},
    {"width": 1, "height": 9, "data": {"values": [{}]}, "mark": {"type": "point", "opacity": 0, "size": 1}},
    {"spacing": 3, "hconcat": [
      {"width": 283, "height": 40, "view": {"fill": "#d4d4d4"},
       "layer": [
         {"data": {"name": "box5"}, "transform": [{"filter": "datum.n == 1"}],
          "mark": {"type": "text", "align": "left", "baseline": "middle", "fontSize": 5.6, "fontWeight": "bold", "color": "#222", "dx": 6},
          "encoding": {
            "x": {"datum": 0, "type": "quantitative", "scale": {"domain": [0, 1]}, "axis": null},
            "y": {"field": "n", "type": "ordinal", "axis": null, "scale": {"type": "point", "padding": 1.08, "domain": [1,2,3,4,5]}},
            "text": {"field": "t"}}},
         {"data": {"name": "box5"}, "transform": [{"filter": "datum.n > 1"}],
          "mark": {"type": "text", "align": "left", "baseline": "middle", "fontSize": 5.6, "color": "#333", "dx": 6},
          "encoding": {
            "x": {"datum": 0, "type": "quantitative", "scale": {"domain": [0, 1]}, "axis": null},
            "y": {"field": "n", "type": "ordinal", "axis": null, "scale": {"type": "point", "padding": 1.08, "domain": [1,2,3,4,5]}},
            "text": {"field": "t"}}}
       ]},
      {"width": 127, "height": 40, "view": {"fill": "#d4d4d4"},
       "layer": [
         {"data": {"values": [{"t": "η %"}]},
          "mark": {"type": "text", "align": "left", "baseline": "middle", "fontSize": 12, "color": "#222", "dx": 8},
          "encoding": {"x": {"datum": 0, "type": "quantitative", "scale": {"domain": [0, 1]}, "axis": null}, "text": {"field": "t"}}},
         {"data": {"name": "box6"}, "transform": [{"filter": "datum.n == 1"}],
          "mark": {"type": "text", "align": "left", "baseline": "middle", "fontSize": 5.6, "fontWeight": "bold", "color": "#222", "dx": 37},
          "encoding": {
            "x": {"datum": 0, "type": "quantitative", "scale": {"domain": [0, 1]}, "axis": null},
            "y": {"field": "n", "type": "ordinal", "axis": null, "scale": {"type": "point", "padding": 1.08, "domain": [1,2,3,4,5]}},
            "text": {"field": "t"}}},
         {"data": {"name": "box6"}, "transform": [{"filter": "datum.n > 1"}],
          "mark": {"type": "text", "align": "left", "baseline": "middle", "fontSize": 5.6, "color": "#333", "dx": 37},
          "encoding": {
            "x": {"datum": 0, "type": "quantitative", "scale": {"domain": [0, 1]}, "axis": null},
            "y": {"field": "n", "type": "ordinal", "axis": null, "scale": {"type": "point", "padding": 1.08, "domain": [1,2,3,4,5]}},
            "text": {"field": "t"}}}
       ]},
      {"width": 126, "height": 40, "view": {"fill": "#d4d4d4"},
       "layer": [
         {"data": {"name": "box7"}, "transform": [{"filter": "datum.n == 1"}],
          "mark": {"type": "text", "align": "left", "baseline": "middle", "fontSize": 5.6, "fontWeight": "bold", "color": "#222", "dx": 4},
          "encoding": {
            "x": {"datum": 0, "type": "quantitative", "scale": {"domain": [0, 1]}, "axis": null},
            "y": {"field": "n", "type": "ordinal", "axis": null, "scale": {"type": "point", "padding": 1.08, "domain": [1,2,3,4,5]}},
            "text": {"field": "t"}}},
         {"data": {"name": "box7"}, "transform": [{"filter": "datum.n > 1"}],
          "mark": {"type": "text", "align": "left", "baseline": "middle", "fontSize": 5.6, "color": "#333", "dx": 4},
          "encoding": {
            "x": {"datum": 0, "type": "quantitative", "scale": {"domain": [0, 1]}, "axis": null},
            "y": {"field": "n", "type": "ordinal", "axis": null, "scale": {"type": "point", "padding": 1.08, "domain": [1,2,3,4,5]}},
            "text": {"field": "t"}}}
       ]}
    ]},
    {"width": 1, "height": 5, "data": {"values": [{}]}, "mark": {"type": "point", "opacity": 0, "size": 1}},
    {"spacing": 0, "hconcat": [
      {"width": 444, "height": 14, "view": {"fill": "#d4d4d4"},
       "data": {"values": [{"t": "CPN/E-13/GPDE-R1"}]},
       "mark": {"type": "text", "align": "left", "baseline": "middle", "fontSize": 5.5, "color": "#444", "dx": 6},
       "encoding": {"x": {"datum": 0, "type": "quantitative", "scale": {"domain": [0, 1]}, "axis": null}, "text": {"field": "t"}}},
      {"width": 98, "height": 14,
       "data": {"values": [{"t": "rovatti pompe"}]},
       "mark": {"type": "text", "align": "right", "baseline": "middle", "fontSize": 15, "fontWeight": "bold", "color": "#1a1a1a"},
       "encoding": {"x": {"datum": 1, "type": "quantitative", "scale": {"domain": [0, 1]}, "axis": null}, "text": {"field": "t"}}}
    ]}
  ]}
]
}
